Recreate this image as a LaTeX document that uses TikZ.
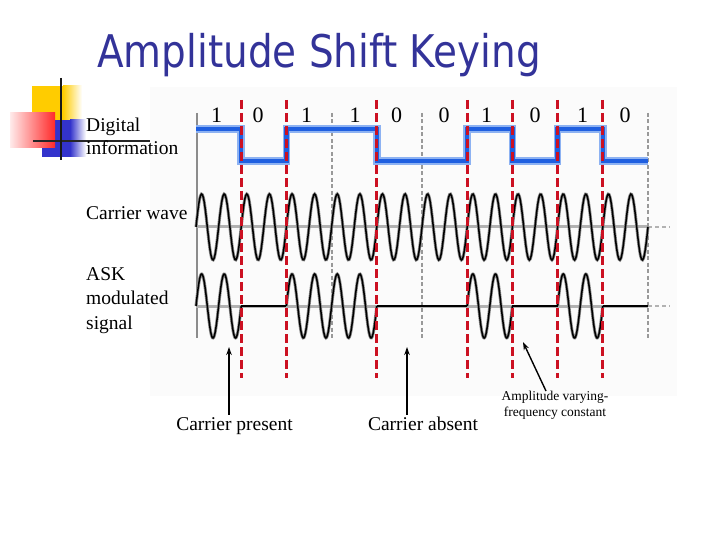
\documentclass[tikz,border=0pt]{standalone}
\usepackage{fontspec}
\setmainfont{Liberation Serif}
\newfontfamily\titlefont{DejaVu Sans}
\usetikzlibrary{arrows.meta}
\definecolor{titleblue}{HTML}{333399}
\definecolor{sigblue}{HTML}{1F5FE0}
\definecolor{sighalo}{HTML}{8DB2F2}
\definecolor{markred}{HTML}{CC1122}
\definecolor{decoyellow}{HTML}{FFCC00}
\definecolor{decoblue}{HTML}{3333CC}
\definecolor{decored}{HTML}{FF2A2A}
\definecolor{panel}{HTML}{FBFBFB}
\tikzset{
  lbl/.style={anchor=base west, inner sep=0pt, font=\fontsize{19.5}{24}\selectfont},
  note/.style={inner sep=0pt, font=\fontsize{19.5}{24}\selectfont},
  small/.style={inner sep=0pt, align=center, font=\fontsize{13.5}{16.5}\selectfont},
  digit/.style={inner sep=0pt, font=\fontsize{22}{26}\selectfont},
  redmark/.style={draw=markred, line width=3pt, dash pattern=on 9pt off 4pt},
  graymark/.style={draw=black!40, line width=2pt, dash pattern=on 4pt off 2.5pt},
  axisline/.style={draw=black!30, line width=3pt},
  axisdash/.style={draw=black!30, line width=2pt, dash pattern=on 4pt off 3pt},
  waveunder/.style={draw=black!45, line width=3pt},
  wave/.style={draw=black, line width=1.5pt},
  pointer/.style={draw=black, line width=1.4pt, -{Stealth[length=8pt,width=5.5pt]}},
}
\begin{document}
\begin{tikzpicture}[x=1pt,y=-1pt]
\useasboundingbox (0,0) rectangle (720,540);
% background panel
\fill[panel] (150,87) rectangle (677,396);
% decoration
\fill[decoyellow] (32,86) rectangle (63,121);
\shade[left color=decoyellow, right color=white] (63,86) rectangle (82,121);
\fill[decoblue] (42,120) rectangle (70,157);
\shade[left color=decoblue, right color=white] (70,120) rectangle (86,157);
\shade[left color=red!8, right color=decored] (10,113) rectangle (55,148);
\draw[black!85, line width=2pt] (33,141) -- (150,141);
\draw[black!90, line width=2.5pt] (61,78) -- (61,160);
% title
\node[anchor=base west, text=titleblue, inner sep=0pt] (title) at (97,68)
  {\titlefont\fontsize{45}{54}\selectfont\scalebox{0.865}[1]{Amplitude Shift Keying}};
% left labels
\node[lbl] (dig1) at (86,131.5) {Digital};
\node[lbl] (dig2) at (86,155) {information};
\node[lbl] (carr) at (86,220) {Carrier wave};
\node[lbl] (ask1) at (86,280) {ASK};
\node[lbl] (ask2) at (86,304.5) {modulated};
\node[lbl] (ask3) at (86,329) {signal};
% axes
\draw[black!45, line width=1.5pt] (197,113) -- (197,338);
\draw[axisline] (196,227) -- (648,227);
\draw[axisdash] (648,227) -- (670,227);
\draw[axisline] (196,306) -- (648,306);
\draw[axisdash] (648,306) -- (670,306);
\foreach \xx in {331.6,422,648} \draw[graymark] (\xx,113) -- (\xx,338);
% carrier wave
\draw[waveunder] plot[domain=196:648, samples=500, smooth] (\x,{227-33*sin(15.9292*(\x-196))});
\draw[wave] plot[domain=196:648, samples=500, smooth] (\x,{227-33*sin(15.9292*(\x-196))});
% ASK signal
\foreach \a/\b in {196/241.2, 286.4/376.8, 467.2/512.4, 557.6/602.8} {
  \draw[waveunder] plot[domain=\a:\b, samples=120, smooth] (\x,{306-32*sin(15.9292*(\x-196))});
  \draw[wave] plot[domain=\a:\b, samples=120, smooth] (\x,{306-32*sin(15.9292*(\x-196))});
}
\foreach \a/\b in {241.2/286.4, 376.8/467.2, 512.4/557.6, 602.8/648}
  \draw[black, line width=2.5pt] (\a,306) -- (\b,306);
% digital signal
\def\digpath{(196,129) -- (241.2,129) -- (241.2,161) -- (286.4,161) -- (286.4,129) -- (376.8,129) -- (376.8,161) -- (467.2,161) -- (467.2,129) -- (512.4,129) -- (512.4,161) -- (557.6,161) -- (557.6,129) -- (602.8,129) -- (602.8,161) -- (648,161)}
\draw[sighalo, line width=7.5pt] \digpath;
\draw[sigblue, line width=4.5pt] \digpath;
% red transition markers
\foreach \xx in {241.2,286.4,376.8,467.2,512.4,557.6,602.8} \draw[redmark] (\xx,100) -- (\xx,378);
% bit labels
\node[digit] (b0) at (216.7,115.5) {1};
\node[digit] (b1) at (258,115.5) {0};
\node[digit] (b2) at (306.7,115.5) {1};
\node[digit] (b3) at (355,115.5) {1};
\node[digit] (b4) at (396.7,115.5) {0};
\node[digit] (b5) at (444,115.5) {0};
\node[digit] (b6) at (486.7,115.5) {1};
\node[digit] (b7) at (535,115.5) {0};
\node[digit] (b8) at (582.7,115.5) {1};
\node[digit] (b9) at (625,115.5) {0};
% annotations
\node[note, anchor=base] (cp) at (234.5,430) {Carrier present};
\node[note, anchor=base] (ca) at (423,430.5) {Carrier absent};
\node[small, anchor=north] (av) at (555,390.5) {Amplitude varying-\\frequency constant};
\coordinate (tipcp) at (229,347);
\coordinate (tipca) at (407,347);
\coordinate (tipav) at (523,342);
\coordinate (tailav) at (546,391);
\draw[pointer] (tipcp |- cp.north) ++(0,-2) -- (tipcp);
\draw[pointer] (tipca |- ca.north) ++(0,-2) -- (tipca);
\draw[pointer] (tailav) -- (tipav);
\end{tikzpicture}
\end{document}
